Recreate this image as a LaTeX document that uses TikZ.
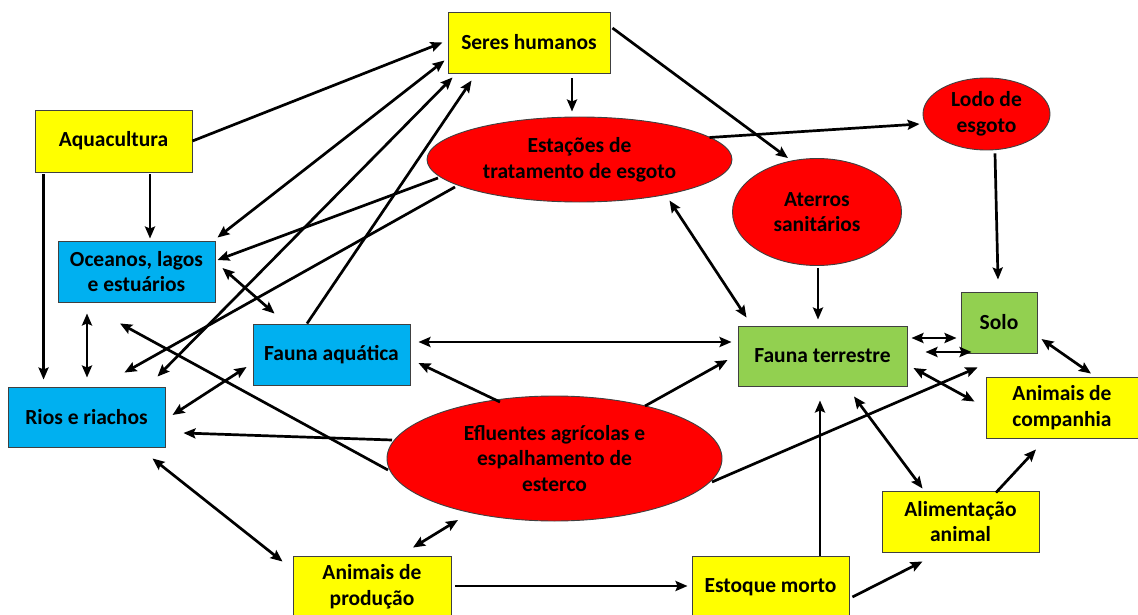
\documentclass[tikz,border=0pt]{standalone}
\usepackage{fontspec}
\setmainfont{Carlito}
\usetikzlibrary{arrows.meta,shapes.geometric}
\definecolor{amarelo}{HTML}{FFFF00}
\definecolor{azul}{HTML}{00B0F0}
\definecolor{verde}{HTML}{92D050}
\definecolor{vermelho}{HTML}{FF0000}
\definecolor{borda}{HTML}{404040}
\begin{document}
\begin{tikzpicture}[x=1pt, y=-1pt,
  every node/.style={font=\fontsize{21.5}{25.7}\selectfont\bfseries, align=center, text=black},
  box/.style={draw=borda, line width=0.9pt, rectangle, inner sep=0pt, minimum width=157pt, minimum height=61pt},
  oval/.style={draw=borda, line width=0.9pt, ellipse, inner sep=0pt, fill=vermelho},
  >={Stealth[length=12pt,width=10pt,inset=2pt]},
  link/.style={line width=2.7pt, ->},
  both/.style={line width=2.7pt, <->}]
\useasboundingbox (0,0) rectangle (1138,615);
%Nodes
\node[box, fill=amarelo, minimum width=162pt] (seres) at (529,42.5) {Seres humanos};
\node[box, fill=amarelo, minimum height=62pt] (aqua) at (113.5,141) {Aquacultura};
\node[box, fill=azul] (oce) at (136.5,271.5) {Oceanos, lagos\\e estuários};
\node[box, fill=azul, minimum height=60pt] (rios) at (86.5,417) {Rios e riachos};
\node[box, fill=azul] (faq) at (331.5,354.5) {Fauna aquática};
\node[oval, minimum width=305pt, minimum height=85pt] (ete) at (579.5,159.5) {Estações de\\tratamento de esgoto};
\node[oval, minimum width=127pt, minimum height=72pt] (lodo) at (986.5,114) {Lodo de\\esgoto};
\node[oval, minimum width=169pt, minimum height=107pt] (ater) at (817,212) {Aterros\\sanitários};
\node[box, fill=verde, minimum width=169pt, minimum height=60pt] (ft) at (822.5,356) {Fauna terrestre};
\node[box, fill=verde, minimum width=76pt] (solo) at (999,322.5) {Solo};
\node[box, fill=amarelo, minimum width=152pt] (ac) at (1062,407.5) {Animais de\\companhia};
\node[oval, minimum width=335pt, minimum height=125pt] (efl) at (554.5,458.5) {Efluentes agrícolas e\\espalhamento de\\esterco};
\node[box, fill=amarelo, minimum width=158pt, minimum height=62pt] (ap) at (372,587) {Animais de\\produção};
\node[box, fill=amarelo, minimum height=62pt] (em) at (770.5,587) {Estoque morto};
\node[box, fill=amarelo] (alim) at (960.5,521.5) {Alimentação\\animal};
%Seres humanos
\draw[link] (aqua.east) -- ([shift={(-5,0)}]seres.west);
\draw[both] ([shift={(2,-3)}]oce.north east) -- ([shift={(-3,-13)}]seres.south west);
\draw[both] ([shift={(-8,-10)}]rios.north east) -- ([shift={(5,4)}]seres.south west);
\draw[link] ([shift={(-24.5,0)}]faq.north) -- ([shift={(24,7)}]seres.south west);
\draw[link] ([shift={(43,5)}]seres.south) -- ([shift={(-7.5,-5)}]ete.north);
\draw[link] ([shift={(2,-14.5)}]seres.east) -- ([shift={(-29,0)}]ater.north);
%Estacoes de tratamento
\draw[link] ([shift={(130,-22)}]ete.center) -- ([shift={(-3,10)}]lodo.west);
\draw[link] ([shift={(-141.5,18.5)}]ete.center) -- ([shift={(2,-11.5)}]oce.east);
\draw[link] ([shift={(-124.5,27.5)}]ete.center) -- ([shift={(-41,-14)}]rios.north east);
\draw[both] ([shift={(90,41)}]ete.center) -- ([shift={(9,-8)}]ft.north west);
%Lodo, aterros
\draw[link] ([shift={(8.5,3)}]lodo.south) -- ([shift={(-1,-12)}]solo.north);
\draw[link] ([shift={(1,2)}]ater.south) -- ([shift={(-4.5,-6)}]ft.north);
%Aquacultura
\draw[link] ([shift={(9,2)}]aqua.south west) -- ([shift={(36,-7)}]rios.north west);
\draw[link] ([shift={(36.5,2)}]aqua.south) -- ([shift={(13.5,-2)}]oce.north);
%Aguas
\draw[both] ([shift={(-49.5,11)}]oce.south) -- ([shift={(0.5,-9)}]rios.north);
\draw[both] ([shift={(7,-3.5)}]oce.east) -- ([shift={(22,-10)}]faq.north west);
\draw[both] ([shift={(7,-2)}]rios.east) -- ([shift={(-6,12.5)}]faq.west);
\draw[both] ([shift={(-13,11)}]rios.south east) -- ([shift={(-10,6)}]ap.north west);
\draw[both] ([shift={(8,-12.5)}]faq.east) -- ([shift={(-6,-14)}]ft.west);
%Efluentes
\draw[link] ([shift={(-162.5,-18.5)}]efl.center) -- ([shift={(18,16)}]rios.east);
\draw[link] ([shift={(-166.5,11.5)}]efl.center) -- ([shift={(-16.5,21)}]oce.south);
\draw[link] ([shift={(-54.5,-56.5)}]efl.center) -- ([shift={(8,8.5)}]faq.east);
\draw[link] ([shift={(90.5,-52.5)}]efl.center) -- ([shift={(-10,4)}]ft.west);
\draw[link] ([shift={(157.5,23.5)}]efl.center) -- ([shift={(17,14)}]solo.south west);
\draw[both] ([shift={(-96.5,61.5)}]efl.center) -- ([shift={(41,-8)}]ap.north);
%Fauna terrestre
\draw[both] ([shift={(4,-18)}]ft.east) -- ([shift={(-4,15.5)}]solo.west);
\draw[both] ([shift={(18,-4)}]ft.east) -- ([shift={(11,29.5)}]solo.west);
\draw[both] ([shift={(6,12)}]ft.east) -- ([shift={(-11,25)}]ac.north west);
\draw[both] ([shift={(4,16.5)}]solo.east) -- ([shift={(29,-3)}]ac.north);
\draw[both] ([shift={(31.5,10)}]ft.south) -- ([shift={(41,-2)}]alim.north west);
%Producao, estoque morto
\draw[link] ([shift={(4,-1)}]ap.east) -- ([shift={(-4,-1)}]em.west);
\draw[link] ([shift={(49.5,0)}]em.north) -- ([shift={(-2.5,14)}]ft.south);
\draw[link] ([shift={(3,10)}]em.east) -- ([shift={(41,9)}]alim.south west);
\draw[link] ([shift={(35.5,2)}]alim.north) -- ([shift={(-26,11)}]ac.south);
\end{tikzpicture}
\end{document}
